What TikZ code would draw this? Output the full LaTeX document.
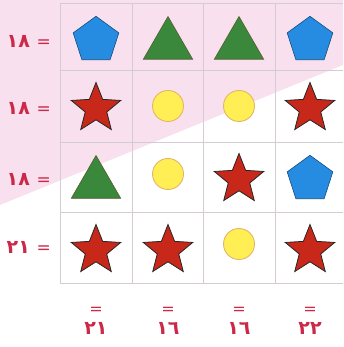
\documentclass[tikz,border=0pt]{standalone}
\usepackage{fontspec}
\TeXXeTstate=1
\newfontfamily\arabicfont[Script=Arabic]{DejaVu Sans}
\usetikzlibrary{shapes.geometric}
\definecolor{bgpink}{RGB}{248,224,238}
\definecolor{gridgray}{RGB}{212,204,210}
\definecolor{penblue}{RGB}{38,140,226}
\definecolor{trigreen}{RGB}{58,136,60}
\definecolor{starred}{RGB}{200,40,26}
\definecolor{discyellow}{RGB}{255,238,84}
\definecolor{discedge}{RGB}{226,182,104}
\definecolor{sumred}{RGB}{204,40,72}
\newcommand{\eqsign}{{\mdseries\fontsize{17}{17}\selectfont=}}
\newcommand{\eqsmall}{{\mdseries\fontsize{16}{16}\selectfont=}}

\begin{document}
\begin{tikzpicture}[
    x=1pt, y=-1pt,
    pent/.style={regular polygon, regular polygon sides=5, minimum size=48pt, inner sep=0pt, fill=penblue, draw=penblue!55!black, line width=0.6pt, yshift=-2.3pt},
    tri/.style={regular polygon, regular polygon sides=3, minimum size=57pt, inner sep=0pt, fill=trigreen, draw=trigreen!50!brown!70!black, line width=0.6pt, yshift=-7pt},
    starshape/.style={star, star points=5, star point ratio=2.3, minimum size=52pt, inner sep=0pt, fill=starred, draw=black!85, line width=0.8pt, yshift=-2.5pt},
    disc/.style={circle, minimum size=31pt, inner sep=0pt, fill=discyellow, draw=discedge, line width=0.9pt},
    rowsum/.style={anchor=base east, inner sep=0pt, text=sumred, font=\arabicfont\bfseries\fontsize{19}{19}\selectfont},
    colsum/.style={anchor=south, inner sep=0pt, align=center, text=sumred, font=\arabicfont\bfseries\fontsize{19}{20}\selectfont},
    gridline/.style={draw=gridgray, line width=0.9pt}
]
    \useasboundingbox (0,0) rectangle (343,347);
    \fill[bgpink] (0,0) -- (343,0) -- (343,65) -- (0,205) -- cycle;

    \foreach \gx in {60,132,203,275} \draw[gridline] (\gx,3) -- (\gx,283);
    \foreach \gy in {3,70,142,212,283} \draw[gridline] (60,\gy) -- (343,\gy);

    \node[pent] (a1) at (96,38) {};
    \node[tri] (a2) at (168,38) {};
    \node[tri] (a3) at (239,38) {};
    \node[pent] (a4) at (310,38) {};

    \node[starshape] (b1) at (96,106) {};
    \node[disc] (b2) at (168,106) {};
    \node[disc] (b3) at (239,106) {};
    \node[starshape] (b4) at (310,106) {};

    \node[tri] (c1) at (96,177) {};
    \node[disc] (c2) at (168,174) {};
    \node[starshape] (c3) at (239,177) {};
    \node[pent] (c4) at (310,177) {};

    \node[starshape] (d1) at (96,248) {};
    \node[starshape] (d2) at (168,248) {};
    \node[disc] (d3) at (239,244) {};
    \node[starshape] (d4) at (310,248) {};

    \node[rowsum] (suma) at (51,48) {\beginR\eqsign\ \beginL١٨\endL\endR};
    \node[rowsum] (sumb) at (51,115) {\beginR\eqsign\ \beginL١٨\endL\endR};
    \node[rowsum] (sumc) at (51,185) {\beginR\eqsign\ \beginL١٨\endL\endR};
    \node[rowsum] (sumd) at (51,253) {\beginR\eqsign\ \beginL٢١\endL\endR};

    \node[colsum] (sum1) at (96,335) {\eqsmall\\٢١};
    \node[colsum] (sum2) at (168,335) {\eqsmall\\١٦};
    \node[colsum] (sum3) at (239,335) {\eqsmall\\١٦};
    \node[colsum] (sum4) at (310,335) {\eqsmall\\٢٢};
\end{tikzpicture}
\end{document}
